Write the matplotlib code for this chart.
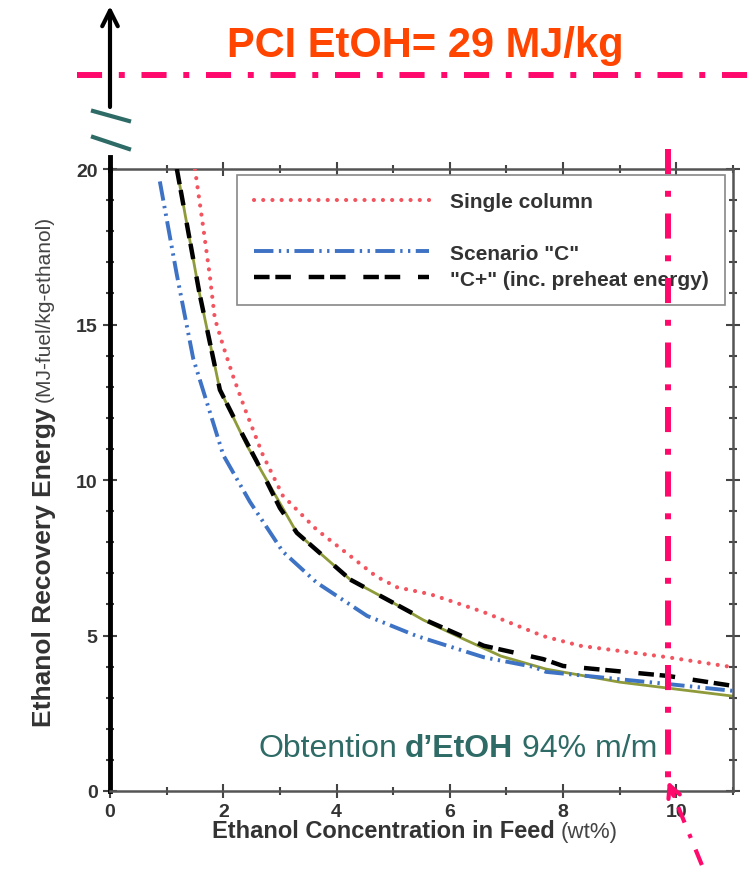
import matplotlib
matplotlib.use('Agg')
import matplotlib.pyplot as plt
from matplotlib.lines import Line2D
import matplotlib.transforms as mtransforms

plt.rcParams['font.family'] = ['Liberation Sans', 'DejaVu Sans']

# ---------------- data ----------------
single_x = [1.5, 1.64, 1.76, 1.85, 2.0, 2.18, 2.4, 2.7, 3.05, 3.65, 4.24, 4.7, 5.07, 5.65, 6.0, 6.6, 7.65, 8.3, 9.85, 11.0]
single_y = [20.0, 18.2, 16.6, 15.2, 14.3, 13.3, 12.2, 10.8, 9.5, 8.4, 7.56, 6.9, 6.55, 6.33, 6.12, 5.75, 4.98, 4.67, 4.3, 3.98]

scen_x = [0.88, 1.18, 1.47, 2.0, 2.47, 3.05, 3.65, 4.54, 5.42, 6.6, 7.48, 7.7, 9.85, 11.0]
scen_y = [19.6, 16.6, 13.9, 10.8, 9.3, 7.7, 6.7, 5.63, 4.98, 4.3, 3.99, 3.83, 3.44, 3.22]

cplus_x = [1.18, 1.4, 1.58, 1.94, 2.3, 2.59, 3.0, 3.3, 4.24, 5.53, 6.6, 7.65, 8.0, 9.85, 11.0]
cplus_y = [20.0, 17.8, 16.0, 12.9, 11.6, 10.6, 9.1, 8.3, 6.8, 5.53, 4.67, 4.24, 4.02, 3.7, 3.38]

olive_x = [1.18, 1.58, 1.94, 2.42, 3.3, 4.24, 5.0, 5.53, 6.25, 6.9, 7.7, 9.0, 11.0]
olive_y = [20.0, 16.0, 12.9, 11.1, 8.3, 6.8, 6.05, 5.5, 4.88, 4.34, 3.92, 3.5, 3.05]

legend_labels = ['Single column', ' ', 'Scenario "C"', '"C+" (inc. preheat energy)']
x_major = [0, 2, 4, 6, 8, 10]
x_minor = [1, 3, 5, 7, 9, 11]
y_major = [0, 5, 10, 15, 20]
y_minor = list(range(0, 21))
target_x = 9.85  # vertical marker at ~94 % m/m product

# ---------------- figure ----------------
W, H = 753, 870
fig = plt.figure(figsize=(W / 100, H / 100), dpi=100)


def fx(px):
    return px / W


def fy(py):
    return 1 - py / H


ax = fig.add_axes([fx(110), fy(792), (733 - 110) / W, (792 - 170) / H])

PINK = '#ff0a6c'
TEAL = '#2e6b66'
GREY = '#333333'

ax.plot(olive_x, olive_y, color='#8f9a3a', lw=2.0, solid_capstyle='round', zorder=2)
l_scen, = ax.plot(scen_x, scen_y, color='#3d72c4', lw=2.8,
                  linestyle=(0, (5, 1.4, 0.6, 1.4, 0.6, 1.4)), zorder=3)
l_cplus, = ax.plot(cplus_x, cplus_y, color='black', lw=3.2,
                   linestyle=(0, (3.5, 1.3, 3.5, 4)), zorder=4)
l_single, = ax.plot(single_x, single_y, color='#f2555f', lw=3.0,
                    linestyle=(0, (0.01, 2.2)), dash_capstyle='round', zorder=3)

ax.set_xlim(0, 11)
ax.set_ylim(0, 20)
ax.set_xticks(x_major)
ax.set_xticks(x_minor, minor=True)
ax.set_yticks(y_major)
ax.set_yticks(y_minor, minor=True)
ax.tick_params(which='both', direction='inout', top=True, right=True,
               colors='#444444', width=1.5)
ax.tick_params(which='major', length=10, labelsize=14, pad=4)
ax.tick_params(which='minor', length=6)
for lab in ax.get_xticklabels() + ax.get_yticklabels():
    lab.set_fontweight('bold')
    lab.set_color(GREY)

for s in ['top', 'right', 'bottom']:
    ax.spines[s].set_color('#555555')
    ax.spines[s].set_linewidth(1.8)
ax.spines['left'].set_color('black')
ax.spines['left'].set_linewidth(3.5)

# legend
blank = Line2D([], [], color='none')
leg = ax.legend([l_single, blank, l_scen, l_cplus], legend_labels,
                loc='upper left', bbox_to_anchor=(0.204, 0.99), borderaxespad=0,
                frameon=True, fancybox=False, edgecolor='#888888', framealpha=1,
                handlelength=8.4, handletextpad=1.0, borderpad=0.8, labelspacing=0.33,
                prop={'weight': 'bold', 'size': 15})
leg.get_frame().set_linewidth(1.2)
for t in leg.get_texts():
    t.set_color(GREY)

# axis labels (bold + normal parts)
tx1 = fig.text(fx(212), fy(838), 'Ethanol Concentration in Feed', weight='bold',
               size=17, color=GREY, ha='left', va='baseline')
ax.annotate('(wt%)', xy=(1, 0), xycoords=tx1, xytext=(4, 0), textcoords='offset points',
            ha='left', va='bottom', size=16, color='#444444')

ty1 = fig.text(fx(44), fy(727), 'Ethanol Recovery Energy', weight='bold', size=19,
               color=GREY, rotation=90, rotation_mode='anchor', ha='left', va='center')
ax.annotate('(MJ-fuel/kg-ethanol)', xy=(0.5, 1), xycoords=ty1, xytext=(0, 4),
            textcoords='offset points', rotation=90, rotation_mode='anchor',
            ha='left', va='center', size=15, color='#444444')

# title-like annotation
fig.text(fx(425), fy(57), 'PCI EtOH= 29 MJ/kg', ha='center', va='baseline',
         size=30, weight='bold', color='#ff4500')

# "Obtention d'EtOH 94% m/m"
to1 = fig.text(fx(258), fy(757), 'Obtention', size=23, color=TEAL, ha='left', va='baseline')
to2 = ax.annotate('d\u2019EtOH', xy=(1, 0), xycoords=to1, xytext=(6, 0),
                  textcoords='offset points', ha='left', va='bottom', size=23,
                  weight='bold', color=TEAL)
ax.annotate('94% m/m', xy=(1, 0), xycoords=to2, xytext=(6, 0),
            textcoords='offset points', ha='left', va='bottom', size=23, color=TEAL)

# pink horizontal dash-dot line
pink_ls = (0, (4.2, 2.8, 1.0, 2.8))
fig.add_artist(Line2D([fx(77), 1.0], [fy(76), fy(76)], transform=fig.transFigure,
                      color=PINK, lw=4.3, linestyle=pink_ls))

# pink vertical dash-dot line at target concentration
blend = mtransforms.blended_transform_factory(ax.transData, fig.transFigure)
fig.add_artist(Line2D([target_x, target_x], [fy(150), fy(790)], transform=blend,
                      color=PINK, lw=4.3, linestyle=pink_ls, zorder=5))

# pink dashed arrow from below pointing to the marker
tip = blend.transform((target_x, fy(782)))
tip_fig = fig.transFigure.inverted().transform(tip)
tail_fig = (tip_fig[0] + 34 / W, fy(866))
fig.add_artist(Line2D([tail_fig[0], tip_fig[0] + 3 / W], [tail_fig[1], tip_fig[1] - 8 / H],
                      transform=fig.transFigure, color=PINK, lw=3,
                      linestyle=(0, (4, 3, 1, 3))))
ax.annotate('', xy=tuple(tip_fig), xycoords='figure fraction',
            xytext=(tip_fig[0] + 6 / W, tip_fig[1] - 15 / H), textcoords='figure fraction',
            arrowprops=dict(arrowstyle='->', color=PINK, lw=3, mutation_scale=22,
                            shrinkA=0, shrinkB=0), annotation_clip=False)

# black arrow for broken axis
ax.annotate('', xy=(fx(110), fy(7)), xycoords='figure fraction',
            xytext=(fx(110), fy(108)), textcoords='figure fraction',
            arrowprops=dict(arrowstyle='->', color='black', lw=3, mutation_scale=28,
                            shrinkA=0, shrinkB=0), annotation_clip=False)
fig.add_artist(Line2D([fx(110), fx(110)], [fy(158), fy(171)], transform=fig.transFigure,
                      color='black', lw=3.5))
# break marks
for y0, y1 in [(112, 122), (138, 150)]:
    fig.add_artist(Line2D([fx(93), fx(129)], [fy(y0), fy(y1)], transform=fig.transFigure,
                          color=TEAL, lw=3))

fig.savefig('out.png', dpi=100)
